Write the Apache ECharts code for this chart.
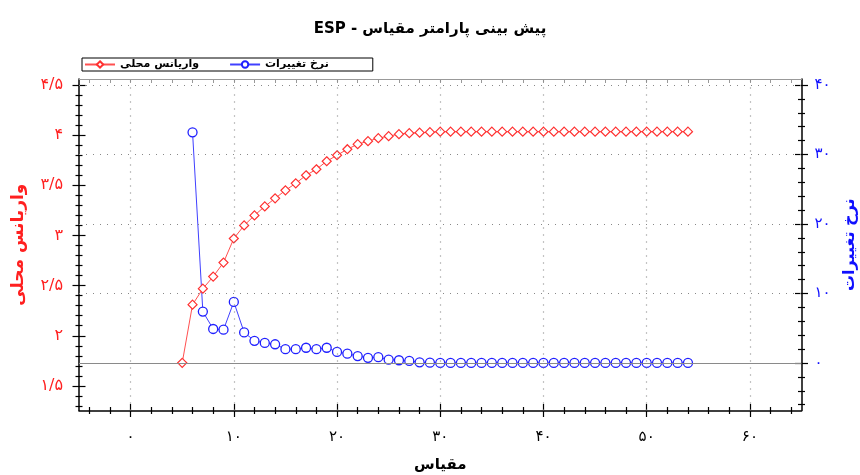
<!DOCTYPE html>
<html>
<head>
<meta charset="utf-8">
<script src="https://cdn.jsdelivr.net/npm/echarts@6/dist/echarts.min.js"></script>
<style>
html,body{margin:0;padding:0;background:#fff;}
#chart{width:860px;height:475px;}
</style>
</head>
<body>
<div id="chart"></div>
<script>
// ---- data ----
const titleText = 'ESP - پیش بینی پارامتر مقیاس';
const xName = 'مقیاس';
const leftName = 'واریانس محلی';
const rightName = 'نرخ تغییرات';

const scales = [5,6,7,8,9,10,11,12,13,14,15,16,17,18,19,20,21,22,23,24,25,26,27,28,29,
                30,31,32,33,34,35,36,37,38,39,40,41,42,43,44,45,46,47,48,49,50,51,52,53,54];
const localVariance = [1.73,2.31,2.47,2.59,2.73,2.97,3.10,3.20,3.29,3.37,3.45,3.52,3.60,3.66,3.74,
                       3.80,3.86,3.91,3.94,3.97,3.99,4.01,4.02,4.025,4.03,
                       4.035,4.035,4.035,4.035,4.035,4.035,4.035,4.035,4.035,4.035,4.035,4.035,4.035,
                       4.035,4.035,4.035,4.035,4.035,4.035,4.035,4.035,4.035,4.035,4.035,4.035];
const rateScales = [6,7,8,9,10,11,12,13,14,15,16,17,18,19,20,21,22,23,24,25,26,27,28,29,
                    30,31,32,33,34,35,36,37,38,39,40,41,42,43,44,45,46,47,48,49,50,51,52,53,54];
const changeRate = [33.2,7.4,4.9,4.8,8.8,4.4,3.2,2.9,2.7,2.0,2.0,2.2,2.0,2.2,1.6,1.35,1.0,0.75,0.85,0.5,0.4,0.3,0.1,0.05,
                    0.02,0.02,0.02,0.02,0.02,0.02,0.02,0.02,0.02,0.02,0.02,0.02,0.02,0.02,0.02,0.02,0.02,0.02,0.02,
                    0.02,0.02,0.02,0.02,0.02,0.02];

const xTickValues = [0,10,20,30,40,50,60];
const xTickLabels = ['۰','۱۰','۲۰','۳۰','۴۰','۵۰','۶۰'];
const leftTickValues = [1.5,2,2.5,3,3.5,4,4.5];
const leftTickLabels = ['۱/۵','۲','۲/۵','۳','۳/۵','۴','۴/۵'];
const rightTickValues = [0,10,20,30,40];
const rightTickLabels = ['۰','۱۰','۲۰','۳۰','۴۰'];

// ---- helpers ----
const X_MIN = -5, X_MAX = 65;
const L_MIN = 1.255, L_MAX = 4.56;
const R_MIN = -6.83, R_MAX = 40.87;
function range(a, b, step) { const r = []; for (let v = a; v <= b + 1e-9; v += step) r.push(Math.round(v * 1000) / 1000); return r; }
function minorOf(a, b, step, majors) { return range(a, b, step).filter(v => !majors.some(m => Math.abs(m - v) < 1e-6)); }
function labeler(values, labels) { return v => { const i = values.findIndex(m => Math.abs(m - v) < 1e-6); return i >= 0 ? labels[i] : ''; }; }

const xMinor = minorOf(-4, 64, 2, xTickValues);
const leftMinor = minorOf(1.3, 4.5, 0.1, leftTickValues);
const rightMinor = minorOf(-6, 40, 2, rightTickValues);

const FONT = "'DejaVu Sans', sans-serif";
const AX = '#000';

function tickAxis(base, vals, len, offset, color) {
  return Object.assign({}, base, {
    offset: offset,
    axisLine: {show: false, onZero: false},
    axisLabel: {show: false},
    splitLine: {show: false},
    axisTick: {show: true, customValues: vals, length: len, inside: false, lineStyle: {color: color || AX, width: 1.2}},
    name: ''
  });
}

const xBase = {type: 'value', min: X_MIN, max: X_MAX, position: 'bottom'};
const lBase = {type: 'value', min: L_MIN, max: L_MAX, position: 'left'};
const rBase = {type: 'value', min: R_MIN, max: R_MAX, position: 'right'};

const chart = echarts.init(document.getElementById('chart'), null, {renderer: 'canvas'});
chart.setOption({
  animation: false,
  backgroundColor: '#fff',
  title: {
    text: titleText, left: 'center', top: 17,
    textStyle: {fontFamily: FONT, fontSize: 15, fontWeight: 'bold', color: '#000'}
  },
  legend: {
    left: 82, top: 58,
    data: [leftName, rightName],
    itemWidth: 30, itemHeight: 8, itemGap: 30,
    borderColor: '#000', borderWidth: 1, padding: [1, 44, 1, 2],
    textStyle: {fontFamily: FONT, fontSize: 11, fontWeight: 'bold', color: '#000'}
  },
  grid: {left: 79, right: 58.5, top: 79, bottom: 64.5, containLabel: false, outerBoundsMode: 'none',
         show: true, borderWidth: 0, backgroundColor: '#fff'},
  xAxis: [
    Object.assign({}, xBase, {
      name: xName, nameLocation: 'middle', nameGap: 47,
      nameTextStyle: {fontFamily: FONT, fontSize: 15, fontWeight: 'bold', color: '#000'},
      axisLine: {show: true, onZero: false, lineStyle: {color: AX, width: 1.5}},
      axisTick: {show: false},
      splitLine: {show: false},
      axisLabel: {customValues: xTickValues, formatter: labeler(xTickValues, xTickLabels), margin: 19,
                  fontFamily: FONT, fontSize: 15, color: '#000'}
    }),
    tickAxis(xBase, xTickValues, 13, -6.5),
    tickAxis(xBase, xMinor, 7, -3.5),
    Object.assign({}, xBase, {
      position: 'top',
      axisLine: {show: true, onZero: false, lineStyle: {color: '#999', width: 1}},
      axisLabel: {show: false}, splitLine: {show: false},
      axisTick: {show: true, customValues: range(-4, 64, 2), inside: true, length: 4, lineStyle: {color: '#999'}}
    })
  ],
  yAxis: [
    Object.assign({}, lBase, {
      name: leftName, nameLocation: 'middle', nameGap: 52, nameRotate: 90,
      nameTextStyle: {fontFamily: FONT, fontSize: 17, fontWeight: 'bold', color: '#ff2020'},
      axisLine: {show: true, onZero: false, lineStyle: {color: AX, width: 1.5}},
      axisTick: {show: false}, splitLine: {show: false},
      axisLabel: {customValues: leftTickValues, formatter: labeler(leftTickValues, leftTickLabels), margin: 16,
                  fontFamily: FONT, fontSize: 16, color: '#ff2020'}
    }),
    tickAxis(lBase, leftTickValues, 13, -6.5),
    tickAxis(lBase, leftMinor, 7, -3.5),
    Object.assign({}, rBase, {
      name: rightName, nameLocation: 'middle', nameGap: 38, nameRotate: 90,
      nameTextStyle: {fontFamily: FONT, fontSize: 16, fontWeight: 'bold', color: '#1010ff'},
      axisLine: {show: true, onZero: false, lineStyle: {color: AX, width: 1.5}},
      axisTick: {show: false}, splitLine: {show: false},
      axisLabel: {customValues: rightTickValues, formatter: labeler(rightTickValues, rightTickLabels), margin: 13,
                  fontFamily: FONT, fontSize: 15, color: '#1010ff'}
    }),
    tickAxis(rBase, rightTickValues, 13, -6.5),
    tickAxis(rBase, rightMinor, 7, -3.5)
  ],
  series: [
    {
      name: leftName, type: 'line', xAxisIndex: 0, yAxisIndex: 0,
      data: scales.map((s, i) => [s, localVariance[i]]),
      symbol: 'diamond', symbolSize: 9, z: 3,
      lineStyle: {color: '#ff5050', width: 1},
      itemStyle: {color: '#fff', borderColor: '#ff3030', borderWidth: 1.2},
      markLine: {
        silent: true, symbol: 'none', label: {show: false},
        lineStyle: {color: '#888', type: [1, 6], width: 1.2},
        data: xTickValues.map(v => ({xAxis: v}))
      }
    },
    {
      name: rightName, type: 'line', xAxisIndex: 0, yAxisIndex: 3,
      data: rateScales.map((s, i) => [s, changeRate[i]]),
      symbol: 'circle', symbolSize: 9, z: 2,
      lineStyle: {color: '#4040ff', width: 1},
      itemStyle: {color: '#fff', borderColor: '#2020ff', borderWidth: 1.3},
      markLine: {
        silent: true, symbol: 'none', label: {show: false},
        data: [
          {yAxis: 0, lineStyle: {color: '#8a8a8a', type: 'solid', width: 1.2}},
          ...rightTickValues.filter(v => v !== 0).map(v => ({yAxis: v, lineStyle: {color: '#888', type: [1, 6], width: 1.2}}))
        ]
      }
    }
  ]
});
</script>
</body>
</html>
